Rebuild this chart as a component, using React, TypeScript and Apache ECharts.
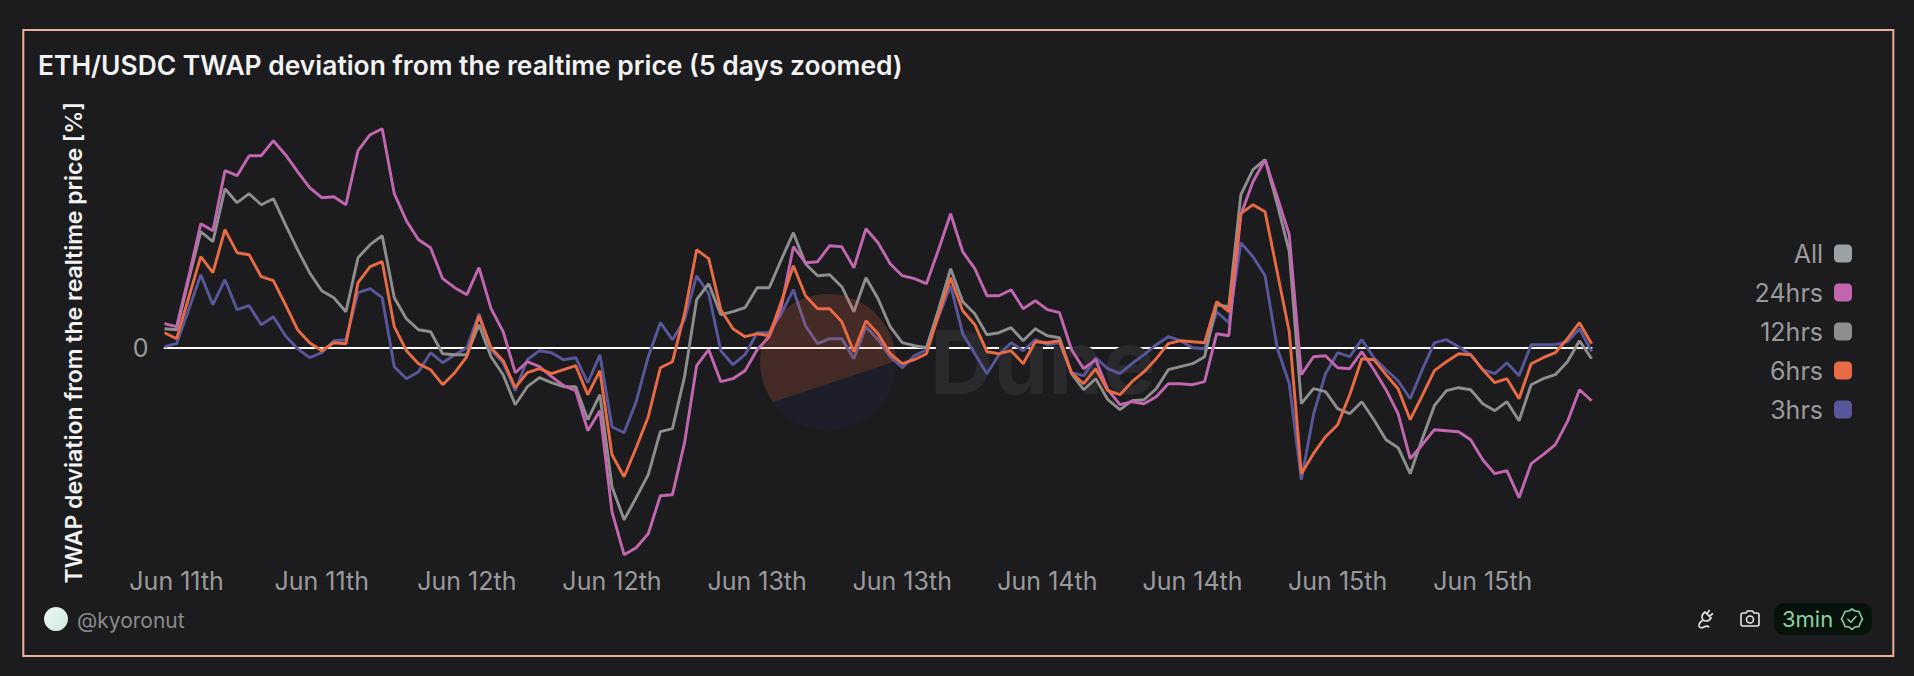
import React, { useEffect, useRef } from "react";
import * as echarts from "echarts";

const tickLabels = ["Jun 11th","Jun 11th","Jun 12th","Jun 12th","Jun 13th","Jun 13th","Jun 14th","Jun 14th","Jun 15th","Jun 15th"];
const pointCount = 119;
const categories = Array.from({ length: pointCount }, (_, i) => tickLabels[Math.floor(i / 12)]);

const hrs24 = [
  .24,.21,.71,1.24,1.17,1.77,1.72,1.92,1.92,2.07,1.93,1.76,1.60,1.50,1.51,1.43,1.97,2.13,2.19,1.54,1.27,1.08,
  1.00,.69,.60,.53,.80,.39,.16,-.25,-.14,-.19,-.29,-.38,-.43,-.83,-.63,-1.64,-2.07,-2.00,-1.86,-1.48,-1.47,
  -.95,-.18,-.02,-.34,-.31,-.23,-.02,.11,.41,1.01,.85,.86,1.02,1.01,.80,1.19,1.05,.84,.72,
  .69,.64,.98,1.34,.96,.79,.52,.52,.58,.39,.47,.38,.35,-.02,-.21,-.12,-.42,-.57,-.54,-.56,-.49,-.36,
  -.36,-.37,-.34,.14,.12,1.33,1.66,1.88,1.51,1.13,-.27,-.09,-.08,-.20,-.21,-.04,
  -.22,-.42,-.66,-1.11,-.97,-.82,-.83,-.84,-.92,-1.12,-1.26,-1.23,-1.50,-1.16,-1.07,-.97,-.74,-.42,-.53,
];
const hrs12 = [
  .19,.18,.68,1.16,1.06,1.59,1.45,1.54,1.43,1.49,1.23,.98,.75,.57,.50,.36,.90,1.03,1.12,.50,.29,.18,
  .16,-.06,-.07,-.07,.23,-.09,-.27,-.57,-.39,-.30,-.35,-.39,-.39,-.72,-.47,-1.39,-1.72,-1.50,-1.27,-.84,-.81,
  -.29,.48,.64,.33,.36,.40,.60,.60,.88,1.15,.84,.72,.73,.61,.36,.70,.49,.21,.05,
  .02,0,.38,.79,.46,.34,.13,.15,.20,.07,.19,.12,.10,-.26,-.42,-.31,-.52,-.62,-.53,-.52,-.41,-.22,
  -.19,-.16,-.09,.43,.41,1.53,1.78,1.88,1.44,.96,-.56,-.41,-.44,-.61,-.66,-.54,
  -.72,-.92,-1.00,-1.26,-.91,-.58,-.43,-.40,-.42,-.56,-.63,-.54,-.73,-.37,-.31,-.27,-.14,.07,-.11,
];
const hrs6 = [
  .15,.09,.50,.91,.75,1.18,.95,.93,.71,.67,.43,.18,.05,-.03,.05,.04,.65,.81,.86,.21,-.03,-.16,
  -.22,-.37,-.25,-.09,.32,0,-.13,-.40,-.25,-.21,-.26,-.22,-.18,-.47,-.23,-1.07,-1.29,-1.00,-.69,-.20,-.14,
  .34,.98,.89,.38,.19,.11,.14,.12,.46,.82,.52,.39,.39,.26,-.04,.27,.14,-.06,-.16,
  -.12,-.06,.33,.70,.37,.23,-.04,-.06,-.03,-.16,.06,.05,.07,-.25,-.36,-.21,-.43,-.47,-.34,-.24,-.11,.04,
  .07,.06,.05,.46,.36,1.34,1.43,1.36,.76,.16,-1.26,-1.06,-.89,-.77,-.47,-.11,
  -.12,-.27,-.41,-.72,-.48,-.23,-.14,-.06,-.07,-.22,-.35,-.31,-.51,-.16,-.10,-.05,.09,.25,.04,
];
const hrs3 = [
  .01,.04,.38,.73,.43,.68,.38,.42,.23,.31,.12,-.01,-.10,-.05,.07,.08,.55,.59,.50,-.19,-.31,-.24,
  -.05,-.15,-.07,0,.34,-.02,-.15,-.43,-.12,-.03,-.05,-.12,-.10,-.35,-.07,-.79,-.85,-.54,-.09,.25,.08,
  .28,.72,.54,-.03,-.17,-.07,.15,.15,.34,.58,.22,.04,.09,.09,-.11,.21,.08,-.09,-.20,
  -.08,-.02,.31,.62,.14,-.06,-.26,-.07,.05,-.03,.08,.03,.05,-.25,-.28,-.10,-.21,-.26,-.16,-.07,.03,.11,
  .07,0,-.01,.36,.25,1.05,.91,.72,0,-.36,-1.32,-.67,-.26,-.05,-.09,.08,
  -.10,-.22,-.33,-.51,-.22,.05,.08,.01,-.07,-.22,-.26,-.15,-.28,.03,.03,.03,.06,.19,-.04,
];
const legendNames = ["All", "24hrs", "12hrs", "6hrs", "3hrs"];

const BG = "#1c1c1e";
const FONT = "Inter, 'Noto Sans', sans-serif";

echarts.graphic.registerShape("wmTop", echarts.graphic.extendPath("M68 -1 A68 68 0 1 0 -55 40 Z", {}) as any);
echarts.graphic.registerShape("wmBottom", echarts.graphic.extendPath("M68 -1 A68 68 0 0 1 -55 40 Z", {}) as any);
echarts.graphic.registerShape("camIcon", echarts.graphic.extendPath("M1 5 Q1 3 3 3 H6 L7.5 1 H12.5 L14 3 H17 Q19 3 19 5 V14 Q19 16 17 16 H3 Q1 16 1 14 Z M13.5 9.5 A3.5 3.5 0 1 1 6.5 9.5 A3.5 3.5 0 1 1 13.5 9.5 Z", {}) as any);
echarts.graphic.registerShape("plugIcon", echarts.graphic.extendPath("M8 3 L14 9 Q12 12.5 8.5 12 Q5 11.5 5 8 Q5 5 8 3 Z M10 5 L12.5 1 M12.5 7 L16 4.5 M5.5 11.5 Q1.5 14 2 17 Q3 20 7 18 Q11 16 12 18.5", {}) as any);
echarts.graphic.registerShape("okIcon", echarts.graphic.extendPath("M11 1 L14 3 L18 3.5 L19.5 7 L21.5 11 L19.5 14.5 L18 18.5 L14 19 L11 21.5 L8 19 L4 18.5 L2.5 14.5 L.5 11 L2.5 7 L4 3.5 L8 3 Z M6.5 11 L9.8 14.2 L15.5 8", {}) as any);

const lineSeries = (name: string, color: string, data: number[]) => ({
  name,
  type: "line",
  data,
  symbol: "none",
  showSymbol: false,
  smooth: false,
  lineStyle: { color, width: 2.9 },
  itemStyle: { color },
  z: 3,
});

export default function App() {
  const ref = useRef<HTMLDivElement>(null);
  useEffect(() => {
    document.body.style.margin = "0";
    document.body.style.background = BG;
    const chart = echarts.init(ref.current!, undefined, { renderer: "svg" });
    chart.setOption({
      animation: false,
      backgroundColor: BG,
      title: {
        text: "ETH/USDC TWAP deviation from the realtime price (5 days zoomed)",
        left: 38,
        top: 52,
        padding: 0,
        textStyle: { color: "#f2f2f2", fontFamily: FONT, fontSize: 26.4, fontWeight: 600 },
      },
      legend: {
        data: legendNames,
        orient: "vertical",
        align: "right",
        right: 62,
        top: 241,
        itemWidth: 18,
        itemHeight: 18,
        itemGap: 14,
        icon: "roundRect",
        padding: 0,
        selectedMode: false,
        textStyle: { color: "#9a9a9c", fontFamily: FONT, fontSize: 25, padding: [0, 6, 0, 0] },
      },
      grid: { left: 164.5, right: 322.4, top: 107.7, bottom: 98.3, containLabel: false },
      xAxis: [
        {
          type: "category",
          data: categories,
          boundaryGap: false,
          position: "bottom",
          axisLine: { show: false, onZero: false },
          axisTick: { show: false },
          splitLine: { show: false },
          axisLabel: {
            color: "#9a9a9c",
            fontFamily: FONT,
            fontSize: 25,
            margin: -9.5,
            hideOverlap: false,
            interval: (i: number) => (i - 1) % 12 === 0,
          },
        },
        {
          type: "category",
          data: categories,
          boundaryGap: false,
          position: "bottom",
          axisLine: { show: true, onZero: true, lineStyle: { color: "#ffffff", width: 2 } },
          axisTick: { show: false },
          axisLabel: { show: false },
          splitLine: { show: false },
        },
      ],
      yAxis: {
        type: "value",
        min: -2.3,
        max: 2.4,
        name: "TWAP deviation from the realtime price [%]",
        nameLocation: "middle",
        nameGap: 79,
        nameTextStyle: { color: "#f2f2f2", fontFamily: FONT, fontSize: 23, fontWeight: 600 },
        axisLine: { show: false },
        axisTick: { show: false },
        splitLine: { show: false },
        axisLabel: { color: "#9a9a9c", fontFamily: FONT, fontSize: 25, margin: 16, padding: [0, 0, 6, 0], customValues: [0] },
      },
      series: [
        lineSeries("All", "#9ca1a6", []),
        lineSeries("3hrs", "#58579b", hrs3),
        lineSeries("12hrs", "#8e8e8e", hrs12),
        lineSeries("24hrs", "#c266b0", hrs24),
        lineSeries("6hrs", "#e86b45", hrs6),
      ],
      graphic: [
        { type: "rect", silent: true, z: 0, shape: { x: 23.3, y: 30, width: 1870, height: 626 }, style: { fill: "none", stroke: "#edb09a", lineWidth: 2 } },
        { type: "wmTop", silent: true, z: 10, x: 828, y: 362, style: { fill: "rgba(232,107,69,0.2)" } },
        { type: "wmBottom", silent: true, z: 10, x: 828, y: 362, style: { fill: "rgba(60,60,180,0.09)" } },
        { type: "text", silent: true, z: 1, x: 930, y: 362, style: { text: "Dune", fill: "#2a2a2c", fontFamily: FONT, fontSize: 88, fontWeight: 700, verticalAlign: "middle" } },
        { type: "circle", silent: true, shape: { cx: 56, cy: 619, r: 12 }, style: { fill: { type: "linear", x: 0, y: 0, x2: 1, y2: 1, colorStops: [{ offset: 0, color: "#eef8f3" }, { offset: 1, color: "#cfe9dc" }] } } },
        { type: "text", silent: true, x: 77, y: 620, style: { text: "@kyoronut", fill: "#8a8a8c", fontFamily: FONT, fontSize: 21, verticalAlign: "middle" } },
        { type: "plugIcon", silent: true, x: 1697, y: 609, style: { fill: "none", stroke: "#e6e6e6", lineWidth: 1.6 } },
        { type: "camIcon", silent: true, x: 1740, y: 610, style: { fill: "none", stroke: "#e6e6e6", lineWidth: 1.6 } },
        { type: "rect", silent: true, shape: { x: 1774, y: 603, width: 98, height: 32, r: 10 }, style: { fill: "#07120b" } },
        { type: "text", silent: true, x: 1782, y: 619, style: { text: "3min", fill: "#8fcfa8", fontFamily: FONT, fontSize: 22, verticalAlign: "middle" } },
        { type: "okIcon", silent: true, x: 1841, y: 608, style: { fill: "none", stroke: "#8fcfa8", lineWidth: 1.6 } },
      ],
    });
    return () => chart.dispose();
  }, []);
  return <div ref={ref} style={{ position: "absolute", left: 0, top: 0, width: 1914, height: 676 }} />;
}
